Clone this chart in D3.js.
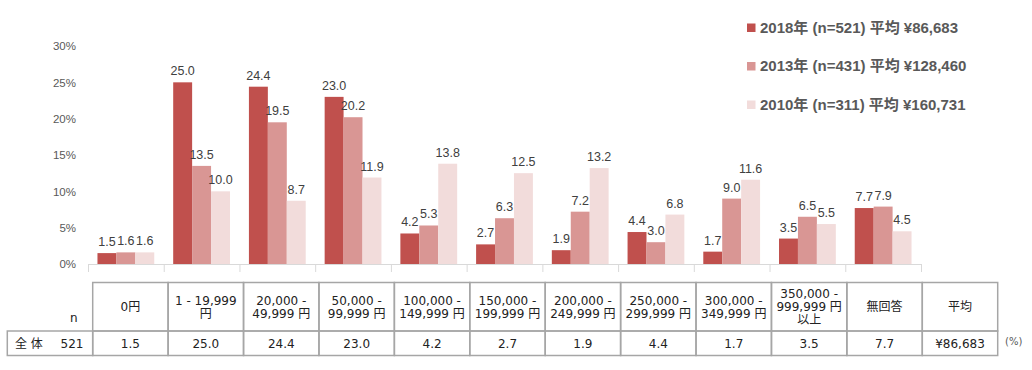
<!DOCTYPE html>
<html>
<head>
<meta charset="utf-8">
<script src="https://cdn.jsdelivr.net/npm/d3@7"></script>
<style>
  body { margin: 0; background: #fff; }
  svg { display: block; }
</style>
</head>
<body>
<div id="graph"></div>
<script>
// categories (table header, one entry per line)
const categories = ["0円", "1-19999", "20000-49999", "50000-99999", "100000-149999", "150000-199999",
	"200000-249999", "250000-299999", "300000-349999", "350000-", "無回答"];
const headerLines = [
	["0円"], ["1 - 19,999", "円"], ["20,000 -", "49,999 円"], ["50,000 -", "99,999 円"],
	["100,000 -", "149,999 円"], ["150,000 -", "199,999 円"], ["200,000 -", "249,999 円"],
	["250,000 -", "299,999 円"], ["300,000 -", "349,999 円"], ["350,000 -", "999,999 円", "以上"],
	["無回答"], ["平均"]
];
const series = ["2018", "2013", "2010"];
const seriesLabels = ["2018年 (n=521) 平均 ¥86,683", "2013年 (n=431) 平均 ¥128,460", "2010年 (n=311) 平均 ¥160,731"];
const colors = ["#C0504D", "#D99694", "#F2DCDB"];
const v2018 = [1.5, 25.0, 24.4, 23.0, 4.2, 2.7, 1.9, 4.4, 1.7, 3.5, 7.7];
const v2013 = [1.6, 13.5, 19.5, 20.2, 5.3, 6.3, 7.2, 3.0, 9.0, 6.5, 7.9];
const v2010 = [1.6, 10.0, 8.7, 11.9, 13.8, 12.5, 13.2, 6.8, 11.6, 5.5, 4.5];
const yTicks = [0, 5, 10, 15, 20, 25, 30];
const tableRowLabel = "全 体";
const tableN = "521";
const tableRow = ["1.5", "25.0", "24.4", "23.0", "4.2", "2.7", "1.9", "4.4", "1.7", "3.5", "7.7", "¥86,683"];

const width = 1032;
const height = 370;
const values = [v2018, v2013, v2010];

const svg = d3
	.select("#graph")
	.append("svg")
	.attr("width", width)
	.attr("height", height)
	.attr("viewBox", [0, 0, width, height]);

const x = d3.scaleBand(categories, [88, 921]);
const x1 = d3.scaleBand(series, [0, x.bandwidth()]).paddingOuter(0.5);
const y = d3.scaleLinear([0, 30], [264, 46]);

// y axis
svg
	.append("g")
	.attr("transform", "translate(80,0)")
	.call(d3.axisLeft(y).tickValues(yTicks).tickFormat((d) => d + "%").tickSize(0))
	.call((g) => g.select(".domain").remove())
	.call((g) =>
		g.selectAll("text")
			.attr("fill", "#595959")
			.attr("font-family", "Liberation Sans, Arial, sans-serif")
			.attr("font-size", 11.5)
			.attr("x", -4)
	);

// bars
const groups = svg
	.append("g")
	.selectAll("g")
	.data(categories)
	.join("g")
	.attr("transform", (d) => `translate(${x(d)},0)`);

groups
	.selectAll("rect")
	.data((d, i) => series.map((s, j) => ({ s, v: values[j][i], c: colors[j] })))
	.join("rect")
	.attr("x", (d) => x1(d.s))
	.attr("width", x1.bandwidth())
	.attr("y", (d) => y(d.v))
	.attr("height", (d) => y(0) - y(d.v))
	.attr("fill", (d) => d.c);

groups
	.selectAll("text")
	.data((d, i) => series.map((s, j) => ({ s, v: values[j][i] })))
	.join("text")
	.attr("x", (d) => x1(d.s) + x1.bandwidth() / 2)
	.attr("y", (d) => y(d.v) - 7)
	.attr("text-anchor", "middle")
	.attr("font-family", "Liberation Sans, Arial, sans-serif")
	.attr("font-size", 12.5)
	.attr("fill", "#404040")
	.text((d) => d.v.toFixed(1));

// x axis with ticks between categories
const xb = d3.scaleLinear([0, categories.length], [88, 921]);
svg
	.append("g")
	.attr("transform", "translate(0,264)")
	.call(d3.axisBottom(xb).ticks(categories.length).tickFormat("").tickSizeInner(8).tickSizeOuter(0))
	.call((g) => g.selectAll("line, path").attr("stroke", "#D9D9D9"));

// legend
const legend = svg
	.append("g")
	.selectAll("g")
	.data(seriesLabels)
	.join("g")
	.attr("transform", (d, i) => `translate(747,${23.5 + i * 38.5})`);
legend.append("rect").attr("width", 8.5).attr("height", 8.5).attr("fill", (d, i) => colors[i]);
legend
	.append("text")
	.attr("x", 13)
	.attr("y", 9)
	.attr("font-family", "Liberation Sans, Arial, 'Noto Sans CJK JP', sans-serif")
	.attr("font-weight", "bold")
	.attr("font-size", 15)
	.attr("fill", "#595959")
	.text((d) => d);

// table
const cols = d3.range(headerLines.length);
const tx = d3.scaleBand(cols, [92.7, 997.7]);
const rowTop = 282.5, rowMid = 331, rowBottom = 355.5;
const table = svg.append("g")
	.attr("font-family", "DejaVu Sans, Verdana, 'Noto Sans CJK JP', sans-serif")
	.attr("font-size", 12)
	.attr("fill", "#222");

table
	.selectAll("rect.h")
	.data(cols)
	.join("rect")
	.attr("x", (d) => tx(d))
	.attr("y", rowTop)
	.attr("width", tx.bandwidth())
	.attr("height", rowMid - rowTop)
	.attr("fill", "none")
	.attr("stroke", "#A6A6A6")
	.attr("stroke-width", 1.5);

table
	.selectAll("rect.d")
	.data(cols)
	.join("rect")
	.attr("x", (d) => tx(d))
	.attr("y", rowMid)
	.attr("width", tx.bandwidth())
	.attr("height", rowBottom - rowMid)
	.attr("fill", "none")
	.attr("stroke", "#A6A6A6")
	.attr("stroke-width", 1.5);

table
	.append("rect")
	.attr("x", 7.3)
	.attr("y", rowMid)
	.attr("width", tx(0) - 7.3)
	.attr("height", rowBottom - rowMid)
	.attr("fill", "none")
	.attr("stroke", "#A6A6A6")
	.attr("stroke-width", 1.5);

const lineH = 13;
table
	.selectAll("text.h")
	.data(cols)
	.join("text")
	.attr("text-anchor", "middle")
	.attr("x", (d) => tx(d) + tx.bandwidth() / 2)
	.attr("y", (d) => (rowTop + rowMid) / 2 - ((headerLines[d].length - 1) * lineH) / 2 + 4.5)
	.selectAll("tspan")
	.data((d) => headerLines[d])
	.join("tspan")
	.attr("x", function () { return this.parentNode.getAttribute("x"); })
	.attr("dy", (d, i) => (i ? lineH : 0))
	.text((d) => d);

table
	.selectAll("text.d")
	.data(cols)
	.join("text")
	.attr("text-anchor", "middle")
	.attr("x", (d) => tx(d) + tx.bandwidth() / 2)
	.attr("y", 348)
	.text((d) => tableRow[d]);

table.append("text").attr("x", 73.7).attr("y", 322).attr("text-anchor", "middle").text("n");
table.append("text").attr("x", 15).attr("y", 348).text(tableRowLabel);
table.append("text").attr("x", 83.5).attr("y", 348).attr("text-anchor", "end").text(tableN);
table.append("text").attr("x", 1005).attr("y", 345).attr("font-size", 10).attr("fill", "#595959").text("(%)");
</script>
</body>
</html>
